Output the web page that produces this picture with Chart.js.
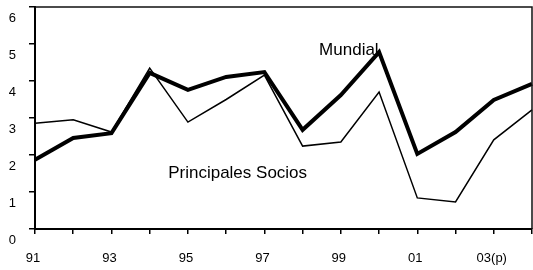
<!DOCTYPE html>
<html>
<head>
<meta charset="utf-8">
<script src="https://cdn.jsdelivr.net/npm/chart.js@4"></script>
<style>
  html, body { margin: 0; padding: 0; background: #fff; }
  .wrap { width: 533px; height: 270px; }
</style>
</head>
<body>
<div class="wrap"><canvas class="growth-chart"></canvas></div>
<script>
// categories (years) - only every other one gets a label
const years = ['91', '92', '93', '94', '95', '96', '97', '98', '99', '00', '01', '02', '03(p)', '04']
const mundial = [1.87, 2.46, 2.59, 4.22, 3.76, 4.11, 4.24, 2.68, 3.62, 4.78, 2.03, 2.62, 3.49, 3.92]
const socios = [2.86, 2.95, 2.62, 4.35, 2.89, 3.5, 4.16, 2.24, 2.35, 3.7, 0.84, 0.73, 2.41, 3.22]
const yTicks = [0, 1, 2, 3, 4, 5, 6]

// text labels inside the plot, placed in data units (category index, value)
const notes = [
    { text: 'Mundial', x: 8.21, y: 4.84 },
    { text: 'Principales Socios', x: 5.3, y: 1.5 }
]

const FONT = 'Liberation Sans, Arial, sans-serif'
const ctx = document.querySelector('.growth-chart')

// draws the top and right frame lines plus the series names
const framePlugin = {
    id: 'frame',
    afterDraw(chart) {
        const c = chart.ctx
        const a = chart.chartArea
        c.save()
        c.strokeStyle = '#111'
        c.lineWidth = 1.5
        c.beginPath()
        c.moveTo(a.left, a.top)
        c.lineTo(a.right, a.top)
        c.lineTo(a.right, a.bottom)
        c.stroke()

        c.fillStyle = '#000'
        c.font = '17px ' + FONT
        c.textAlign = 'center'
        c.textBaseline = 'middle'
        notes.forEach(n => {
            c.fillText(n.text, chart.scales.x.getPixelForValue(n.x), chart.scales.y.getPixelForValue(n.y))
        })
        c.restore()
    }
}

new Chart(ctx, {
    type: 'line',
    data: {
        labels: years,
        datasets: [{
            label: 'Mundial',
            data: mundial,
            borderColor: '#000',
            borderWidth: 4,
            pointRadius: 0,
            tension: 0
        }, {
            label: 'Principales Socios',
            data: socios,
            borderColor: '#000',
            borderWidth: 1.5,
            pointRadius: 0,
            tension: 0
        }]
    },
    options: {
        responsive: true,
        maintainAspectRatio: false,
        animation: false,
        layout: {
            padding: { top: 7, right: 1, left: 0, bottom: 0 }
        },
        scales: {
            x: {
                afterFit(scale) {
                    scale.height = 41
                    scale.paddingLeft = 0
                    scale.paddingRight = 0
                },
                border: { color: '#000', width: 2 },
                grid: {
                    drawOnChartArea: false,
                    color: '#000',
                    lineWidth: 1.5,
                    tickLength: 5
                },
                ticks: {
                    autoSkip: false,
                    maxRotation: 0,
                    padding: 17,
                    labelOffset: -2,
                    color: '#000',
                    font: { family: FONT, size: 13 },
                    callback: (v, i) => i % 2 ? '' : years[i]
                }
            },
            y: {
                min: 0,
                max: 6,
                afterFit(scale) {
                    scale.width = 35
                    scale.paddingTop = 0
                    scale.paddingBottom = 0
                },
                afterBuildTicks(scale) { scale.ticks = yTicks.map(v => ({ value: v })) },
                border: { color: '#000', width: 2 },
                grid: {
                    drawOnChartArea: false,
                    color: '#000',
                    lineWidth: 1.5,
                    tickLength: 6
                },
                ticks: {
                    padding: 13,
                    labelOffset: 11,
                    color: '#000',
                    font: { family: FONT, size: 13 }
                }
            }
        },
        plugins: {
            legend: { display: false },
            tooltip: { enabled: false }
        }
    },
    plugins: [framePlugin]
})
</script>
</body>
</html>
